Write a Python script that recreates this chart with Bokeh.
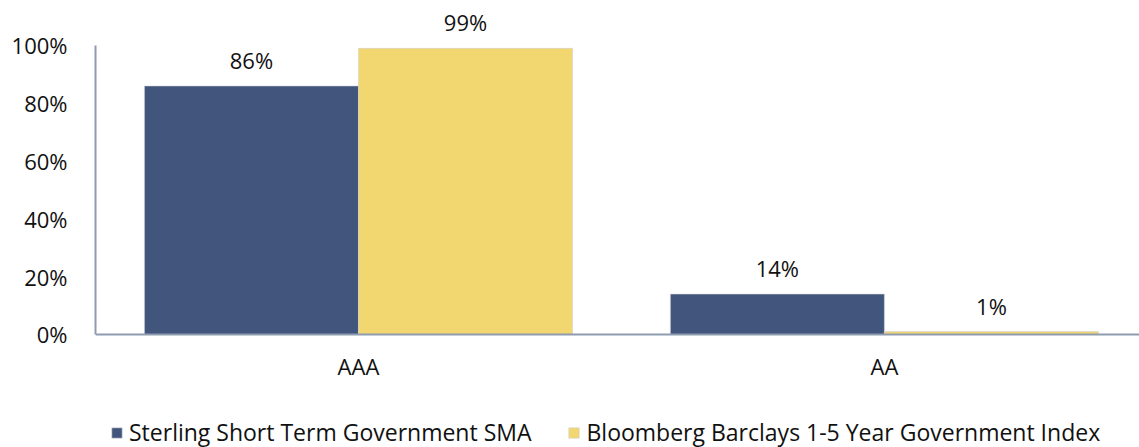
from bokeh.plotting import figure
from bokeh.models import ColumnDataSource, Range1d, FixedTicker, Legend, LegendItem, LabelSet
from bokeh.core.properties import value
from bokeh.embed import file_html
from bokeh.resources import INLINE

categories = ["AAA", "AA"]
sma_values = [86, 14]
index_values = [99, 1]
series_names = ["Sterling Short Term Government SMA", "Bloomberg Barclays 1-5 Year Government Index"]
y_ticks = [0, 20, 40, 60, 80, 100]

BLUE = "#41557D"
YELLOW = "#F2D670"
AXIS = "#8E9BB0"
FONT = "Open Sans"
FS = "22px"
LFS = "23px"

cx = [i + 0.5 for i in range(len(categories))]
bw = 0.407
src_a = ColumnDataSource(dict(x=[c - bw / 2 for c in cx], top=sma_values,
                              lab=[f"{v}%" for v in sma_values]))
src_b = ColumnDataSource(dict(x=[c + bw / 2 for c in cx], top=index_values,
                              lab=[f"{v}%" for v in index_values]))

p = figure(width=1139, height=447, output_backend="svg", toolbar_location=None,
           x_range=Range1d(0, 1.985), y_range=Range1d(-39.1, 112.1),
           min_border_left=95, min_border_right=0, min_border_top=10, min_border_bottom=0)
p.outline_line_color = None
p.grid.visible = False

ra = p.vbar(x="x", top="top", width=bw, bottom=0, source=src_a, fill_color=BLUE, line_color="#d9d9d9", line_width=0.6)
rb = p.vbar(x="x", top="top", width=bw, bottom=0, source=src_b, fill_color=YELLOW, line_color="#d0d0d0", line_width=0.6)

for s in (src_a, src_b):
    p.add_layout(LabelSet(x="x", y="top", text="lab", source=s, text_align="center",
                          text_baseline="bottom", y_offset=11, text_font=value(FONT),
                          text_font_size=FS, text_color="#111111"))

p.yaxis.ticker = FixedTicker(ticks=y_ticks)
p.yaxis.major_label_overrides = {t: f"{t}%" for t in y_ticks}
p.yaxis.bounds = (0, 100)
p.xaxis.ticker = FixedTicker(ticks=cx)
p.xaxis.major_label_overrides = {c: n for c, n in zip(cx, categories)}
p.xaxis.fixed_location = 0
for ax in (p.xaxis, p.yaxis):
    ax.axis_line_color = AXIS
    ax.axis_line_width = 2
    ax.major_tick_line_color = None
    ax.minor_tick_line_color = None
    ax.major_label_text_font = FONT
    ax.major_label_text_font_size = FS
    ax.major_label_text_color = "#111111"
p.yaxis.major_label_standoff = 22
p.xaxis.major_label_standoff = 11

legend = Legend(items=[LegendItem(label=series_names[0], renderers=[ra]),
                       LegendItem(label=series_names[1], renderers=[rb])],
                orientation="horizontal", location=(15, -1),
                glyph_width=13, glyph_height=13, label_standoff=6, spacing=36,
                padding=0, margin=0, border_line_color=None, background_fill_alpha=0,
                label_text_font=FONT, label_text_font_size=LFS, label_text_color="#111111")
p.add_layout(legend, "center")

open("out.html", "w").write(file_html(p, INLINE))
